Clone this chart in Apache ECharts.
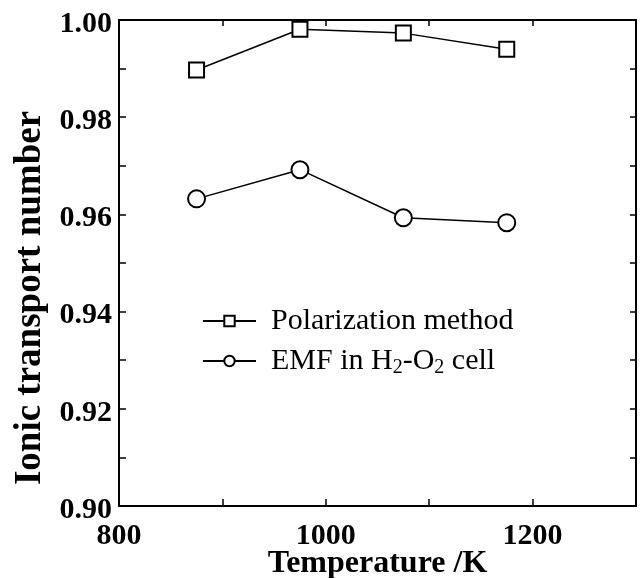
<!DOCTYPE html>
<html>
<head>
<meta charset="utf-8">
<script src="https://cdn.jsdelivr.net/npm/echarts@6/dist/echarts.min.js"></script>
<style>
  html, body { margin: 0; padding: 0; background: #fff; }
  #chart { width: 640px; height: 578px; }
</style>
</head>
<body>
<div id="chart"></div>
<script>
// Measurement temperatures (K)
const temperatures = [875, 975, 1075, 1175];
// Ionic transport number by the polarization method
const polarization = [0.9897, 0.9981, 0.9973, 0.9940];
// Ionic transport number from EMF in an H2-O2 cell
const emfCell = [0.9632, 0.9692, 0.9593, 0.9583];

// Labelled ticks
const xTickLabels = [800, 1000, 1200];
const yTickLabels = [0.90, 0.92, 0.94, 0.96, 0.98, 1.00];

const seriesNames = ['Polarization method', 'EMF in H2-O2 cell'];
const legendText = {
  'Polarization method': 'Polarization method',
  'EMF in H2-O2 cell': 'EMF in H{sub|2}-O{sub|2} cell'
};

const SERIF = '"Liberation Serif", "Times New Roman", serif';
const INK = '#000';

function pairs(xs, ys) {
  return xs.map((x, i) => [x, ys[i]]);
}

function hasLabel(list, v, digits) {
  return list.some(t => Math.abs(t - v) < Math.pow(10, -digits) / 2);
}

const frameLine = { show: true, lineStyle: { color: INK, width: 2 } };

const chart = echarts.init(document.getElementById('chart'), null, { renderer: 'canvas' });

chart.setOption({
  backgroundColor: '#fff',
  animation: false,
  grid: {
    left: 119, right: 4, top: 20, bottom: 72,
    containLabel: false,
    outerBoundsMode: 'none'
  },
  legend: {
    data: seriesNames,
    left: 197,
    top: 301,
    orient: 'vertical',
    itemWidth: 53,
    itemHeight: 13,
    itemGap: 10,
    selectedMode: false,
    formatter: name => legendText[name],
    textStyle: {
      fontFamily: SERIF,
      fontSize: 30,
      color: INK,
      padding: [0, 0, 0, 10],
      rich: {
        sub: { fontFamily: SERIF, fontSize: 20, color: INK, padding: [14, 0, 0, 0] }
      }
    }
  },
  xAxis: [
    {
      type: 'value',
      position: 'bottom',
      min: 800,
      max: 1300,
      interval: 100,
      name: 'Temperature /K',
      nameLocation: 'middle',
      nameGap: 42,
      nameMoveOverlap: false,
      nameTextStyle: { fontFamily: SERIF, fontWeight: 'bold', fontSize: 32, color: INK },
      axisLine: frameLine,
      axisTick: { show: true, inside: true, length: 7, lineStyle: { color: INK, width: 1.5 } },
      splitLine: { show: false },
      axisLabel: {
        fontFamily: SERIF, fontWeight: 'bold', fontSize: 30, color: INK, margin: 15,
        showMinLabel: true, showMaxLabel: true,
        formatter: v => hasLabel(xTickLabels, v, 0) ? String(Math.round(v)) : ''
      }
    },
    {
      type: 'value',
      position: 'top',
      min: 800,
      max: 1300,
      interval: 100,
      axisLine: frameLine,
      axisTick: { show: true, inside: true, length: 6, lineStyle: { color: INK, width: 1.5 } },
      axisLabel: { show: false },
      splitLine: { show: false }
    }
  ],
  yAxis: [
    {
      type: 'value',
      position: 'left',
      min: 0.90,
      max: 1.00,
      interval: 0.01,
      name: 'Ionic transport number',
      nameLocation: 'middle',
      nameGap: 70,
      nameRotate: 90,
      nameTextStyle: {
        fontFamily: SERIF, fontWeight: 'bold', fontSize: 37, color: INK,
        padding: [0, 70, 0, 0]
      },
      axisLine: frameLine,
      axisTick: { show: true, inside: true, length: 7, lineStyle: { color: INK, width: 1.5 } },
      splitLine: { show: false },
      axisLabel: {
        fontFamily: SERIF, fontWeight: 'bold', fontSize: 30, color: INK, margin: 7,
        verticalAlign: 'top',
        lineHeight: 8,
        showMinLabel: true, showMaxLabel: true,
        formatter: v => hasLabel(yTickLabels, v, 3) ? v.toFixed(2) : ''
      }
    },
    {
      type: 'value',
      position: 'right',
      min: 0.90,
      max: 1.00,
      interval: 0.01,
      axisLine: frameLine,
      axisTick: { show: true, inside: true, length: 6, lineStyle: { color: INK, width: 1.5 } },
      axisLabel: { show: false },
      splitLine: { show: false }
    }
  ],
  series: [
    {
      name: seriesNames[0],
      type: 'line',
      xAxisIndex: 0,
      yAxisIndex: 0,
      data: pairs(temperatures, polarization),
      symbol: 'emptyRect',
      symbolSize: 15,
      color: INK,
      lineStyle: { color: INK, width: 1.5 },
      itemStyle: { color: INK, borderColor: INK, borderWidth: 1.8 }
    },
    {
      name: seriesNames[1],
      type: 'line',
      xAxisIndex: 0,
      yAxisIndex: 0,
      data: pairs(temperatures, emfCell),
      symbol: 'emptyCircle',
      symbolSize: 17,
      color: INK,
      lineStyle: { color: INK, width: 1.5 },
      itemStyle: { color: INK, borderColor: INK, borderWidth: 1.8 }
    }
  ]
});
</script>
</body>
</html>
